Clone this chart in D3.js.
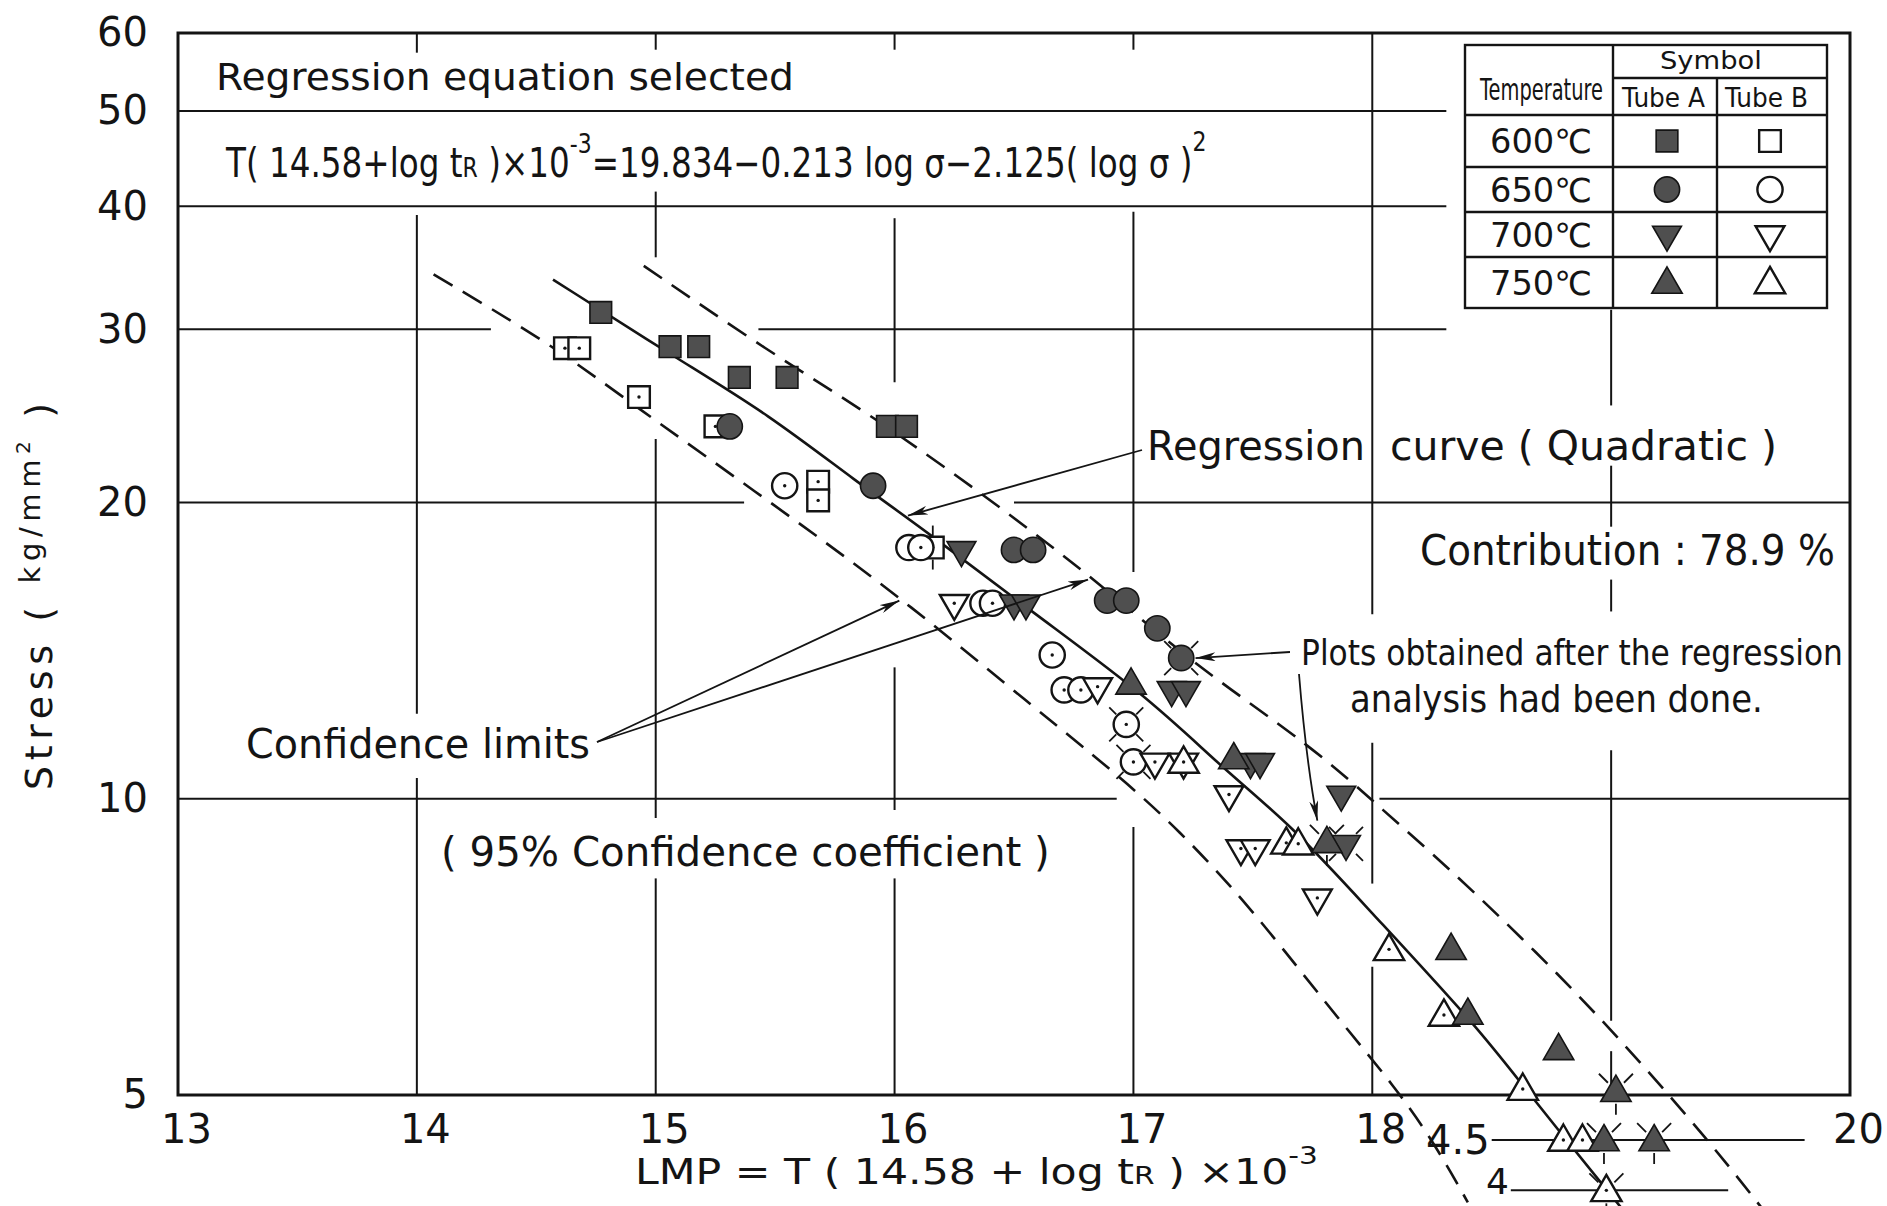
<!DOCTYPE html>
<html>
<head>
<meta charset="utf-8">
<style>
html, body { margin: 0; padding: 0; background: #fff; }
svg { display: block; }
text { font-family: "DejaVu Sans", "Noto Sans CJK JP", sans-serif; fill: #141414; }
</style>
</head>
<body>
<svg id="chart" width="1887" height="1206"></svg>
<script src="https://cdn.jsdelivr.net/npm/d3@7"></script>
<script>
// axis ticks
const xTicks = [13, 14, 15, 16, 17, 18, 20];
const yTicks = [5, 10, 20, 30, 40, 50, 60];
const extTicks = [4.5, 4];

// rupture points [LMP, stress kg/mm2, plotted after regression?]
const tubeA600 = [[14.77, 31.2], [15.06, 28.8], [15.18, 28.8], [15.35, 26.8], [15.55, 26.8], [15.97, 23.9], [16.05, 23.9]];
const tubeB600 = [[14.62, 28.7], [14.68, 28.7], [14.93, 25.6], [15.25, 23.9], [15.68, 21.0], [15.68, 20.1], [16.16, 18.0, 1]];
const tubeA650 = [[15.31, 23.9], [15.91, 20.8], [16.50, 17.9], [16.58, 17.9], [16.89, 15.9], [16.97, 15.9], [17.10, 14.9], [17.20, 13.9, 1]];
const tubeB650 = [[15.54, 20.8], [16.06, 18.0], [16.11, 18.0], [16.37, 15.8], [16.41, 15.8], [16.66, 14.0], [16.71, 12.9], [16.78, 12.9], [16.97, 11.9, 1], [17.00, 10.9, 1]];
const tubeA700 = [[16.28, 17.9], [16.50, 15.8], [16.55, 15.8], [17.16, 12.9], [17.22, 12.9], [17.49, 10.9], [17.53, 10.9], [17.87, 10.1], [17.89, 9.0, 1]];
const tubeB700 = [[16.25, 15.8], [16.85, 13.0], [17.09, 10.9], [17.21, 10.9], [17.40, 10.1], [17.45, 8.9], [17.51, 8.9], [17.77, 7.93]];
const tubeA750 = [[16.99, 13.1], [17.42, 11.0], [17.81, 9.04, 1], [18.33, 7.04], [18.40, 6.05], [18.78, 5.57], [19.02, 5.05, 1], [18.97, 4.5, 1], [19.18, 4.5, 1]];
const tubeB750 = [[17.21, 10.9], [17.64, 9.02], [17.69, 9.0], [18.07, 7.03], [18.30, 6.03], [18.63, 5.07], [18.80, 4.5], [18.88, 4.5], [18.98, 4.0, 1]];

// curves [LMP, stress]
const regCurve = [[14.57, 33.7], [15.10, 27.9], [15.47, 24.6], [15.84, 21.0], [16.14, 18.65], [16.58, 15.45], [17.06, 12.7], [17.38, 10.7], [17.66, 9.41], [17.98, 7.74], [18.45, 5.83], [18.64, 5.07], [19.05, 3.82]];
const upperLimit = [[14.95, 34.8], [15.47, 28.5], [15.92, 24.4], [16.43, 19.9], [16.86, 16.55], [17.25, 13.7], [17.75, 11.3], [18.05, 9.71], [18.31, 8.55], [18.69, 6.98], [19.03, 5.73], [19.42, 4.46], [19.63, 3.84]];
const lowerLimit = [[14.07, 34.1], [14.55, 29.1], [14.88, 25.4], [15.47, 20.1], [16.03, 16.0], [16.58, 12.4], [16.93, 10.6], [17.19, 9.30], [17.47, 7.85], [17.70, 6.68], [17.90, 5.81], [18.09, 5.11], [18.25, 4.51], [18.40, 3.89]];

// drafted grid pieces: [value, [[from, to], ...]]
const hGrid = [
  [50, [[13, 18.31]]],
  [40, [[13, 18.31]]],
  [30, [[13, 14.31], [15.43, 18.31]]],
  [20, [[13, 15.37], [16.50, 20]]],
  [10, [[13, 16.93], [18.03, 20]]]
];
const vGrid = [
  [14, [[60, 57.3], [39.2, 12.2], [10.5, 5]]],
  [15, [[60, 57.7], [41.4, 35.5], [23.2, 9.56], [8.3, 5]]],
  [16, [[60, 57.7], [38.9, 26.5], [13.6, 9.74], [8.3, 5]]],
  [17, [[60, 57.7], [39.5, 17.0], [9.36, 5]]],
  [18, [[60, 15.4], [11.4, 8.2], [6.75, 5]]],
  [19, [[31.4, 25.1], [21.8, 18.9], [16.7, 15.5], [11.2, 5.95], [5.54, 5]]]
];

const temps = ["600℃", "650℃", "700℃", "750℃"];
const shapes = ["square", "circle", "down", "up"];

const ink = "#141414";
const svg = d3.select("#chart");
const x = d3.scaleLinear().domain([13, 20]).range([178, 1850]);
const y = d3.scaleLog().domain([5, 60]).range([1095, 33]);

const defs = svg.append("defs");
defs.append("marker").attr("id", "arrow")
  .attr("viewBox", "0 0 18 8").attr("refX", 18).attr("refY", 4)
  .attr("markerUnits", "userSpaceOnUse").attr("markerWidth", 20).attr("markerHeight", 9)
  .attr("orient", "auto")
  .append("path").attr("d", "M0,0 L18,4 L0,8 L5,4 Z").attr("fill", ink);

// grid
const grid = svg.append("g").attr("stroke", ink).attr("stroke-width", 2);
hGrid.forEach(([v, segs]) => segs.forEach(([a, b]) => {
  grid.append("line").attr("x1", x(a)).attr("x2", x(b)).attr("y1", y(v)).attr("y2", y(v));
}));
vGrid.forEach(([v, segs]) => segs.forEach(([a, b]) => {
  grid.append("line").attr("x1", x(v)).attr("x2", x(v)).attr("y1", y(a)).attr("y2", y(b));
}));

// frame
svg.append("rect")
  .attr("x", x(13)).attr("y", y(60))
  .attr("width", x(20) - x(13)).attr("height", y(5) - y(60))
  .attr("fill", "none").attr("stroke", ink).attr("stroke-width", 3);

// axes
const yAxis = svg.append("g").attr("transform", `translate(${x(13)},0)`)
  .call(d3.axisLeft(y).tickValues(yTicks).tickFormat(d3.format("d")).tickSize(0).tickPadding(30));
const xAxis = svg.append("g").attr("transform", `translate(0,${y(5)})`)
  .call(d3.axisBottom(x).tickValues(xTicks).tickFormat(d3.format("d")).tickSize(0).tickPadding(20));
[yAxis, xAxis].forEach(g => {
  g.select(".domain").remove();
  g.attr("font-size", 40).attr("font-family", null);
  g.selectAll("text").attr("fill", ink);
});
xAxis.selectAll("text").attr("dx", 8);

// broken scale below 5
const extStart = [18.50, 18.58], extEnd = [19.81, 19.49];
extTicks.forEach((v, i) => {
  svg.append("line").attr("x1", x(extStart[i])).attr("x2", x(extEnd[i]))
    .attr("y1", y(v)).attr("y2", y(v)).attr("stroke", ink).attr("stroke-width", 2);
  svg.append("text").attr("x", x(extStart[i]) - 2).attr("y", y(v)).attr("dy", i ? "0.1em" : "0.36em")
    .attr("text-anchor", "end").attr("font-size", i ? 36 : 40).text(v);
});

// curves
const line = d3.line().x(d => x(d[0])).y(d => y(d[1])).curve(d3.curveBasis);
const curves = svg.append("g").attr("fill", "none").attr("stroke", ink).attr("stroke-width", 2.6);
curves.append("path").datum(regCurve).attr("d", line);
curves.append("path").datum(upperLimit).attr("d", line).attr("stroke-dasharray", "22 12");
curves.append("path").datum(lowerLimit).attr("d", line).attr("stroke-dasharray", "22 12");

// markers
const sym = {
  square: d3.symbol(d3.symbolSquare, 470),
  circle: d3.symbol(d3.symbolCircle, 500),
  up: d3.symbol(d3.symbolTriangle, 400),
  down: d3.symbol(d3.symbolTriangle, 360)
};

function drawMarker(g, shape, filled, cx, cy, post, dot) {
  const m = g.append("g").attr("transform", `translate(${cx},${cy})`);
  const p = m.append("path").attr("d", sym[shape]())
    .attr("fill", filled ? "#4f4f4f" : "#fff")
    .attr("stroke", ink).attr("stroke-width", filled ? 1.6 : 2.4);
  if (shape === "down") p.attr("transform", "rotate(180)");
  if (shape === "up") p.attr("transform", "translate(0,2)");
  if (!filled && dot) m.append("circle").attr("r", 1.7).attr("fill", ink);
  if (post) {
    let ticks;
    if (shape === "up") ticks = [[-8, -8, -17, -17], [8, -8, 17, -17], [0, 13, 0, 24]];
    else if (shape === "square") ticks = [[0, -12, 0, -22], [0, 12, 0, 22]];
    else ticks = [[-10, -10, -17, -17], [10, -10, 17, -17], [-10, 10, -17, 17], [10, 10, 17, 17]];
    ticks.forEach(t => m.append("line").attr("x1", t[0]).attr("y1", t[1]).attr("x2", t[2]).attr("y2", t[3])
      .attr("stroke", ink).attr("stroke-width", 1.8));
  }
}

const series = [
  [tubeB600, "square", false], [tubeB650, "circle", false], [tubeB700, "down", false], [tubeB750, "up", false],
  [tubeA600, "square", true], [tubeA650, "circle", true], [tubeA700, "down", true], [tubeA750, "up", true]
];
const pts = svg.append("g");
series.forEach(([data, shape, filled]) => {
  data.forEach(d => drawMarker(pts, shape, filled, x(d[0]), y(d[1]), d[2], true));
});

// texts: squeeze each one horizontally to the width it has in the drawing
function place(t, px, py, len) {
  const k = len ? len / t.node().getComputedTextLength() : 1;
  t.attr("transform", `translate(${px},${py}) scale(${k},1)`);
  return t;
}
function txt(s, px, py, size, len, parent) {
  const t = (parent || svg).append("text").attr("font-size", size).text(s);
  return place(t, px, py, len);
}

txt("Regression equation selected", 216, 90, 38, 578);

const eq = svg.append("text").attr("font-size", 40);
eq.append("tspan").text("T( 14.58+log t");
eq.append("tspan").attr("font-size", 27).text("R");
eq.append("tspan").text(" )×10");
eq.append("tspan").attr("font-size", 27).attr("dy", -24).text("-3");
eq.append("tspan").attr("dy", 24).text("=19.834−0.213 log σ−2.125( log σ )");
eq.append("tspan").attr("font-size", 27).attr("dy", -26).text("2");
place(eq, 226, 177, 981);

txt("Regression", 1147, 460, 41, 218);
txt("curve ( Quadratic )", 1390, 460, 41, 387);
txt("Contribution : 78.9 %", 1420, 565, 42, 415);
txt("Plots obtained after the regression", 1301, 665, 36, 542);
txt("analysis had been done.", 1350, 712, 37, 413);
txt("Confidence limits", 246, 758, 41, 344);
txt("( 95% Confidence coefficient )", 441, 866, 41, 609);

const xt = svg.append("text").attr("font-size", 36);
xt.append("tspan").text("LMP = T ( 14.58 + log t");
xt.append("tspan").attr("font-size", 25).text("R");
xt.append("tspan").text(" ) ×10");
xt.append("tspan").attr("font-size", 25).attr("dy", -20).text("-3");
place(xt, 635, 1184, 683);

const yt = svg.append("text").attr("transform", "translate(52,790) rotate(-90)")
  .attr("font-size", 38).attr("textLength", 387).attr("lengthAdjust", "spacing");
yt.append("tspan").text("Stress ( ");
yt.append("tspan").attr("font-size", 29).attr("dy", -12).text("kg/mm");
yt.append("tspan").attr("font-size", 20).attr("dy", -10).text("2");
yt.append("tspan").attr("dy", 22).text(" )");

// annotation arrows
const arrows = svg.append("g").attr("stroke", ink).attr("stroke-width", 1.8).attr("fill", "none");
arrows.append("line").attr("x1", 1142).attr("y1", 450).attr("x2", x(16.056)).attr("y2", y(19.4)).attr("marker-end", "url(#arrow)");
arrows.append("line").attr("x1", 597).attr("y1", 742).attr("x2", x(16.02)).attr("y2", y(15.9)).attr("marker-end", "url(#arrow)");
arrows.append("line").attr("x1", 597).attr("y1", 742).attr("x2", x(16.81)).attr("y2", y(16.7)).attr("marker-end", "url(#arrow)");
arrows.append("line").attr("x1", 1290).attr("y1", 652).attr("x2", x(17.26)).attr("y2", y(13.9)).attr("marker-end", "url(#arrow)");
arrows.append("path").attr("d", `M1299,674 Q1306,760 ${x(17.77)},${y(9.5)}`).attr("marker-end", "url(#arrow)");

// legend table
const lg = svg.append("g");
const L = {x0: 1465, x1: 1613, x2: 1717, x3: 1827, y0: 45, ySym: 78, yHead: 115};
const rowY = [115, 167, 212, 257, 308];
const lgLines = lg.append("g").attr("stroke", ink).attr("stroke-width", 2.4);
lgLines.append("rect").attr("x", L.x0).attr("y", L.y0).attr("width", L.x3 - L.x0).attr("height", rowY[4] - L.y0).attr("fill", "#fff");
lgLines.append("line").attr("x1", L.x1).attr("x2", L.x1).attr("y1", L.y0).attr("y2", rowY[4]);
lgLines.append("line").attr("x1", L.x2).attr("x2", L.x2).attr("y1", L.ySym).attr("y2", rowY[4]);
lgLines.append("line").attr("x1", L.x1).attr("x2", L.x3).attr("y1", L.ySym).attr("y2", L.ySym);
rowY.slice(0, 4).forEach(v => lgLines.append("line").attr("x1", L.x0).attr("x2", L.x3).attr("y1", v).attr("y2", v));

txt("Symbol", 1660, 69, 25, 102, lg);
txt("Temperature", 1480, 100, 31, 123, lg);
txt("Tube A", 1622, 107, 26, 83, lg);
txt("Tube B", 1725, 107, 26, 83, lg);
temps.forEach((t, i) => {
  const cy = (rowY[i] + rowY[i + 1]) / 2;
  txt(t, 1490, cy + 12, 33, 102, lg);
  drawMarker(lg, shapes[i], true, 1667, cy, false, false);
  drawMarker(lg, shapes[i], false, 1770, cy, false, false);
});
</script>
</body>
</html>
